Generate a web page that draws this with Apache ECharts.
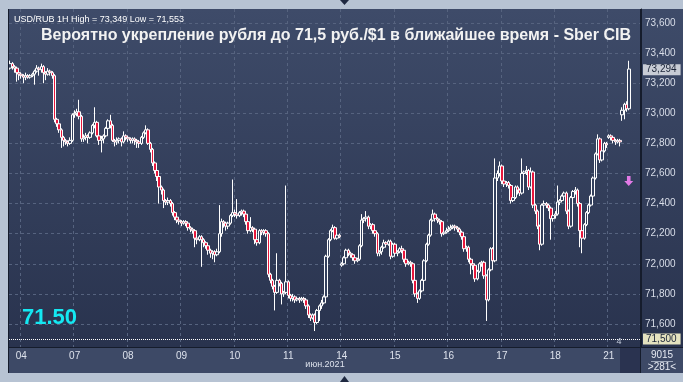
<!DOCTYPE html>
<html><head><meta charset="utf-8">
<script src="https://cdn.jsdelivr.net/npm/echarts@6/dist/echarts.min.js"></script>
<style>html,body{margin:0;padding:0;background:#b7c3d3;}#c{width:683px;height:382px;}</style>
</head><body><div id="c"></div>
<script>
// USD/RUB 1H candles, rows are [open, close, low, high]
const jun03 = [[73.30,73.33,73.29,73.35],[73.33,73.31,73.29,73.34],[73.31,73.30,73.27,73.32],[73.30,73.27,73.21,73.31],[73.27,73.26,73.22,73.28]];
const jun04 = [[73.26,73.25,73.23,73.27],[73.25,73.24,73.20,73.26],[73.24,73.25,73.22,73.27],[73.25,73.24,73.23,73.26],[73.24,73.25,73.23,73.26],[73.25,73.26,73.24,73.27],[73.26,73.28,73.19,73.29],[73.28,73.30,73.27,73.32],[73.30,73.29,73.25,73.31],[73.29,73.31,73.27,73.33],[73.31,73.27,73.20,73.32],[73.27,73.26,73.22,73.28],[73.26,73.28,73.25,73.30],[73.28,73.27,73.25,73.29],[73.27,73.25,73.23,73.28],[73.25,72.96,72.94,73.26],[72.96,72.93,72.91,72.97],[72.93,72.89,72.87,72.94],[72.89,72.84,72.77,72.90],[72.84,72.82,72.78,72.85],[72.82,72.81,72.79,72.83],[72.81,72.80,72.78,72.82],[72.80,72.82,72.79,72.84],[72.82,72.99,72.81,73.00]];
const jun07 = [[72.99,73.00,72.97,73.02],[73.00,73.01,72.98,73.03],[73.01,72.98,72.96,73.09],[72.98,72.83,72.81,72.99],[72.83,72.84,72.81,72.86],[72.84,72.85,72.82,72.87],[72.85,72.84,72.80,72.86],[72.84,72.87,72.83,72.88],[72.87,72.92,72.86,72.93],[72.92,72.94,72.90,73.04],[72.94,72.85,72.84,72.95],[72.85,72.82,72.79,72.86],[72.82,72.83,72.74,72.85],[72.83,72.85,72.80,72.86],[72.85,72.90,72.84,72.91],[72.90,72.95,72.89,72.96],[72.95,72.92,72.90,72.99],[72.92,72.82,72.81,72.93],[72.82,72.81,72.78,72.83],[72.81,72.82,72.79,72.84],[72.82,72.83,72.80,72.84],[72.83,72.81,72.78,72.84],[72.81,72.85,72.80,72.88],[72.85,72.84,72.82,72.86]];
const jun08 = [[72.84,72.83,72.81,72.85],[72.83,72.82,72.80,72.84],[72.82,72.83,72.80,72.84],[72.83,72.82,72.79,72.84],[72.82,72.81,72.77,72.83],[72.81,72.80,72.77,72.82],[72.80,72.84,72.79,72.85],[72.84,72.87,72.83,72.88],[72.87,72.89,72.86,72.92],[72.89,72.80,72.79,72.90],[72.80,72.76,72.74,72.81],[72.76,72.67,72.65,72.77],[72.67,72.62,72.60,72.68],[72.62,72.58,72.55,72.63],[72.58,72.51,72.40,72.59],[72.51,72.49,72.46,72.52],[72.49,72.42,72.37,72.50],[72.42,72.41,72.39,72.43],[72.41,72.42,72.39,72.44],[72.42,72.40,72.38,72.43],[72.40,72.34,72.32,72.41],[72.34,72.31,72.29,72.35],[72.31,72.29,72.27,72.32],[72.29,72.28,72.26,72.30]];
const jun09 = [[72.28,72.27,72.25,72.29],[72.27,72.28,72.26,72.29],[72.28,72.27,72.25,72.29],[72.27,72.24,72.22,72.28],[72.24,72.23,72.21,72.25],[72.23,72.22,72.20,72.24],[72.22,72.17,72.11,72.23],[72.17,72.16,72.13,72.18],[72.16,72.18,72.15,72.19],[72.18,72.16,71.98,72.19],[72.16,72.14,72.11,72.17],[72.14,72.12,72.10,72.15],[72.12,72.09,72.06,72.13],[72.09,72.07,72.04,72.10],[72.07,72.08,72.03,72.09],[72.08,72.06,72.01,72.09],[72.06,72.08,72.05,72.10],[72.08,72.20,72.07,72.39],[72.20,72.28,72.18,72.30],[72.28,72.27,72.24,72.29],[72.27,72.25,72.22,72.28],[72.25,72.27,72.23,72.28],[72.27,72.32,72.26,72.33],[72.32,72.34,72.31,72.56]];
const jun10 = [[72.34,72.33,72.31,72.36],[72.33,72.32,72.30,72.43],[72.32,72.34,72.31,72.35],[72.34,72.35,72.32,72.36],[72.35,72.33,72.31,72.36],[72.33,72.28,72.26,72.34],[72.28,72.22,72.20,72.29],[72.22,72.24,72.21,72.31],[72.24,72.23,72.21,72.25],[72.23,72.16,72.13,72.24],[72.16,72.14,72.12,72.17],[72.14,72.22,72.13,72.23],[72.22,72.21,72.19,72.23],[72.21,72.22,72.19,72.23],[72.22,72.20,72.18,72.23],[72.20,71.93,71.91,72.21],[71.93,71.89,71.87,71.94],[71.89,71.85,71.83,71.90],[71.85,71.81,71.69,71.86],[71.81,71.89,71.80,72.07],[71.89,71.87,71.85,71.90],[71.87,71.80,71.73,71.88],[71.80,71.81,71.78,71.82],[71.81,71.88,71.80,72.52]];
const jun11 = [[71.88,71.79,71.77,71.89],[71.79,71.77,71.75,71.80],[71.77,71.78,71.75,71.80],[71.78,71.76,71.74,71.79],[71.76,71.77,71.75,71.78],[71.77,71.76,71.74,71.78],[71.76,71.77,71.75,71.78],[71.77,71.76,71.74,71.78],[71.76,71.72,71.70,71.77],[71.72,71.66,71.64,71.73],[71.66,71.64,71.62,71.67],[71.64,71.66,71.63,71.67],[71.66,71.61,71.553,71.67],[71.61,71.69,71.60,71.70],[71.69,71.72,71.62,71.73],[71.72,71.74,71.70,71.76],[71.74,71.78,71.73,71.79],[71.78,72.05,71.77,72.06],[72.05,72.16,72.04,72.17],[72.16,72.22,72.15,72.23],[72.22,72.24,72.21,72.26],[72.24,72.17,72.16,72.25],[72.17,72.19,72.16,72.20],[72.19,72.18,72.17,72.20]];
const jun14 = [[71.99,72.00,71.98,72.01],[72.00,72.04,71.99,72.05],[72.04,72.09,72.03,72.10],[72.09,72.07,72.05,72.10],[72.07,72.06,72.04,72.08],[72.06,72.04,72.02,72.07],[72.04,72.02,72.00,72.05],[72.02,72.03,72.01,72.04],[72.03,72.12,72.02,72.13],[72.12,72.29,72.11,72.33],[72.29,72.30,72.27,72.31],[72.30,72.31,72.28,72.35],[72.31,72.25,72.23,72.32],[72.25,72.26,72.23,72.27],[72.26,72.22,72.20,72.27],[72.22,72.20,72.18,72.23],[72.20,72.07,72.05,72.21],[72.07,72.08,72.05,72.09],[72.08,72.11,72.06,72.12],[72.11,72.14,72.10,72.16],[72.14,72.13,72.11,72.15],[72.13,72.15,72.12,72.16],[72.15,72.05,72.03,72.16],[72.05,72.13,72.04,72.14]];
const jun15 = [[72.13,72.07,72.05,72.14],[72.07,72.08,72.05,72.09],[72.08,72.10,72.07,72.11],[72.10,72.09,72.07,72.12],[72.09,72.03,72.01,72.10],[72.03,72.00,71.98,72.04],[72.00,72.01,71.99,72.02],[72.01,72.00,71.98,72.02],[72.00,71.89,71.87,72.01],[71.89,71.80,71.78,71.90],[71.80,71.77,71.74,71.81],[71.77,71.82,71.76,71.83],[71.82,71.89,71.81,71.90],[71.89,72.02,71.88,72.03],[72.02,72.13,72.01,72.14],[72.13,72.19,72.12,72.20],[72.19,72.29,72.18,72.30],[72.29,72.33,72.28,72.36],[72.33,72.30,72.28,72.34],[72.30,72.29,72.27,72.31],[72.29,72.28,72.26,72.30],[72.28,72.20,72.18,72.29],[72.20,72.21,72.19,72.22],[72.21,72.22,72.20,72.24]];
const jun16 = [[72.22,72.23,72.21,72.25],[72.23,72.24,72.22,72.26],[72.24,72.25,72.23,72.26],[72.25,72.24,72.22,72.26],[72.24,72.23,72.21,72.25],[72.23,72.21,72.19,72.24],[72.21,72.18,72.16,72.22],[72.18,72.10,72.08,72.19],[72.10,72.11,72.08,72.12],[72.11,72.03,72.01,72.12],[72.03,72.00,71.93,72.04],[72.00,71.99,71.96,72.01],[71.99,71.90,71.88,72.00],[71.90,71.95,71.89,71.96],[71.95,72.00,71.94,72.01],[72.00,72.01,71.98,72.02],[72.01,71.92,71.90,72.02],[71.92,71.76,71.62,71.93],[71.76,71.96,71.75,71.97],[71.96,72.10,71.95,72.11],[72.10,72.02,72.00,72.11],[72.02,72.57,72.01,72.70],[72.57,72.60,72.55,72.62],[72.60,72.65,72.58,72.68]];
const jun17 = [[72.65,72.55,72.53,72.66],[72.55,72.53,72.51,72.56],[72.53,72.54,72.51,72.55],[72.54,72.52,72.50,72.55],[72.52,72.42,72.40,72.53],[72.42,72.44,72.41,72.45],[72.44,72.51,72.43,72.52],[72.51,72.49,72.46,72.52],[72.49,72.47,72.45,72.50],[72.47,72.60,72.46,72.70],[72.60,72.61,72.58,72.62],[72.61,72.62,72.59,72.65],[72.62,72.51,72.49,72.63],[72.51,72.61,72.50,72.64],[72.61,72.39,72.37,72.62],[72.39,72.35,72.33,72.40],[72.35,72.25,72.23,72.36],[72.25,72.13,72.09,72.26],[72.13,72.39,72.12,72.40],[72.39,72.40,72.37,72.42],[72.40,72.39,72.37,72.41],[72.39,72.37,72.35,72.40],[72.37,72.30,72.16,72.38],[72.30,72.32,72.28,72.33]];
const jun18 = [[72.32,72.33,72.30,72.35],[72.33,72.41,72.32,72.52],[72.41,72.42,72.39,72.43],[72.42,72.45,72.41,72.46],[72.45,72.47,72.44,72.48],[72.47,72.35,72.33,72.48],[72.35,72.25,72.23,72.36],[72.25,72.44,72.24,72.45],[72.44,72.48,72.43,72.49],[72.48,72.49,72.46,72.51],[72.49,72.40,72.38,72.50],[72.40,72.22,72.11,72.41],[72.22,72.17,72.07,72.23],[72.17,72.26,72.16,72.27],[72.26,72.34,72.25,72.35],[72.34,72.39,72.33,72.40],[72.39,72.45,72.38,72.46],[72.45,72.57,72.44,72.58],[72.57,72.73,72.56,72.74],[72.73,72.83,72.72,72.86],[72.83,72.69,72.67,72.84],[72.69,72.75,72.68,72.76],[72.75,72.80,72.74,72.81],[72.80,72.79,72.77,72.81]];
const jun21 = [[72.84,72.85,72.83,72.86],[72.85,72.84,72.82,72.86],[72.84,72.82,72.80,72.85],[72.82,72.81,72.79,72.83],[72.81,72.82,72.80,72.83],[72.82,72.81,72.78,72.83],[72.99,73.02,72.95,73.04],[73.02,73.06,72.96,73.07],[73.06,73.03,73.01,73.08],[73.03,73.294,73.02,73.349]];

const dayNames  = ['03','04','07','08','09','10','11','14','15','16','17','18','21'];
const firstHour = [19,0,0,0,0,0,0,0,0,0,0,0,0];
const dayRows   = [jun03,jun04,jun07,jun08,jun09,jun10,jun11,jun14,jun15,jun16,jun17,jun18,jun21];
const emptySlots = 5;
const targetLevel = 71.5;
const lastPrice = 73.294;
const signalValue = 72.55;

const categories = [], ohlc = [];
dayRows.forEach((rows, d) => rows.forEach((r, k) => { categories.push(dayNames[d] + ' ' + (firstHour[d] + k)); ohlc.push(r); }));
for (let k = 0; k < emptySlots; k++) { categories.push('e' + k); ohlc.push('-'); }
const lastIdx = dayRows.reduce((s, r) => s + r.length, 0) - 1;

const fmt = v => v.toFixed(3).replace('.', ',');
const chart = echarts.init(document.getElementById('c'), null, {renderer: 'canvas'});
const F = 'Liberation Sans, Arial, sans-serif';
const navy = new echarts.graphic.LinearGradient(0, 0, 0, 1, [{offset: 0, color: '#3e4b69'}, {offset: 1, color: '#29334e'}]);

chart.setOption({
  animation: false,
  backgroundColor: '#b7c3d3',
  title: [
    {text: 'USD/RUB 1H High = 73,349 Low = 71,553', left: 9, top: 10, textStyle: {color: '#ffffff', fontSize: 9, fontWeight: 'normal', fontFamily: F}},
    {text: 'Вероятно укрепление рубля до 71,5 руб./$1 в ближайшее время - Sber CIB', left: 36, top: 23, textStyle: {color: '#f2f2f2', fontSize: 16, fontWeight: 'bold', fontFamily: F}}
  ],
  grid: {left: 9, right: 42, top: 9, bottom: 35, show: true, backgroundColor: navy, borderWidth: 0},
  xAxis: {
    type: 'category', data: categories, boundaryGap: true,
    name: 'июн.2021', nameLocation: 'middle', nameGap: 13, nameMoveOverlap: false,
    nameTextStyle: {color: '#dde2ec', fontSize: 9, fontFamily: F},
    axisLine: {show: true, lineStyle: {color: '#151c2c'}},
    axisTick: {show: false},
    axisLabel: {color: '#dde2ec', fontSize: 10, fontFamily: F, margin: 4,
      interval: (i, v) => / 0$/.test(v), formatter: v => v.split(' ')[0]},
    splitLine: {show: true, interval: (i, v) => / 0$/.test(v), lineStyle: {color: '#56637f', type: [3, 3]}}
  },
  yAxis: {
    type: 'value', position: 'right', min: 71.447, max: 73.693, splitNumber: 11, scale: true,
    axisLine: {show: true, lineStyle: {color: '#151c2c'}},
    axisTick: {show: false},
    axisLabel: {color: '#d8dde8', fontSize: 10, fontFamily: F, margin: 4, showMinLabel: false, showMaxLabel: false,
      formatter: v => Math.abs(v * 5 - Math.round(v * 5)) < 1e-6 ? fmt(v) : ''},
    splitLine: {show: true, showMinLine: false, showMaxLine: false, lineStyle: {color: '#56637f', type: [3, 3]}}
  },
  series: [{
    type: 'candlestick', data: ohlc, barWidth: 3,
    itemStyle: {color: '#33405d', color0: '#e8173c', borderColor: '#ffffff', borderColor0: '#ffffff', borderWidth: 1},
    markLine: {
      symbol: 'none', silent: true, animation: false,
      data: [
        {yAxis: targetLevel, lineStyle: {color: '#ffffff', type: 'dotted', width: 1},
         label: {show: true, position: 'end', distance: 2, formatter: fmt(targetLevel), backgroundColor: '#e4e2bf', color: '#1b2438', padding: [1, 4, 0, 3], fontSize: 10, fontFamily: F}},
        {yAxis: lastPrice, lineStyle: {color: 'rgba(0,0,0,0)', width: 1},
         label: {show: true, position: 'end', distance: 2, formatter: fmt(lastPrice), backgroundColor: '#c8ccd5', color: '#1b2438', padding: [1, 4, 0, 3], fontSize: 10, fontFamily: F}}
      ]
    },
    markPoint: {
      silent: true, animation: false,
      data: [{coord: [categories[lastIdx], signalValue], symbol: 'path://M3,0 L7,0 L7,5 L10,5 L5,10 L0,5 L3,5 Z', symbolSize: [9, 10], itemStyle: {color: '#e27ae6'}, label: {show: false}}]
    }
  }],
  graphic: [
    {type: 'rect', z: -10, shape: {x: 641, y: 9, width: 42, height: 338}, style: {fill: navy}},
    {type: 'rect', z: -10, shape: {x: 9, y: 347, width: 674, height: 26}, style: {fill: '#3d4966'}},
    {type: 'rect', z: -9, shape: {x: 620, y: 348, width: 21, height: 25}, style: {fill: '#2a3350'}},
    {type: 'line', z: 50, shape: {x1: 640.5, y1: 9, x2: 640.5, y2: 373}, style: {stroke: '#151c2c', lineWidth: 1}},
    {type: 'line', z: 50, shape: {x1: 9, y1: 347.5, x2: 683, y2: 347.5}, style: {stroke: '#151c2c', lineWidth: 1}},
    {type: 'line', z: 50, shape: {x1: 8.5, y1: 9, x2: 8.5, y2: 373}, style: {stroke: '#151c2c', lineWidth: 1}},
    {type: 'line', z: 50, shape: {x1: 651, y1: 361.5, x2: 673, y2: 361.5}, style: {stroke: '#a0aabc', lineWidth: 1}},
    {type: 'text', z: 50, style: {x: 662, y: 355, text: '9015', fill: '#e6eaf2', font: '10px ' + F, textAlign: 'center', textVerticalAlign: 'middle'}},
    {type: 'text', z: 50, style: {x: 662, y: 367, text: '>281<', fill: '#e6eaf2', font: '10px ' + F, textAlign: 'center', textVerticalAlign: 'middle'}},
    {type: 'text', z: 50, style: {x: 619, y: 342, text: '4', fill: '#c8d0e0', font: '9px ' + F, textAlign: 'center', textVerticalAlign: 'middle'}},
    {type: 'text', z: 50, style: {x: 22, y: 318, text: '71.50', fill: '#14e8f2', font: 'bold 22px ' + F, textAlign: 'left', textVerticalAlign: 'middle'}},
    {type: 'polygon', z: 50, shape: {points: [[340, 0], [349, 0], [344.5, 5]]}, style: {fill: '#1e2840'}},
    {type: 'polygon', z: 50, shape: {points: [[340, 382], [349, 382], [344.5, 376]]}, style: {fill: '#1e2840'}}
  ]
});
</script></body></html>
